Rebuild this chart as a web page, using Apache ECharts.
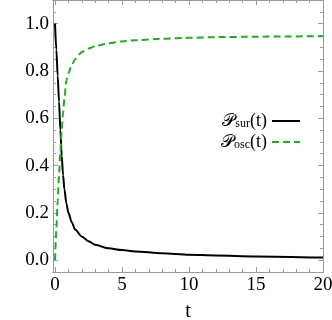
<!DOCTYPE html>
<html>
<head>
<meta charset="utf-8">
<script src="https://cdn.jsdelivr.net/npm/echarts@6/dist/echarts.min.js"></script>
<style>
    html, body { margin: 0; padding: 0; background: #fff; }
    #chart { width: 332px; height: 320px; }
</style>
</head>
<body>
<div id="chart"></div>
<script>
// data
var tValues = [0, 0.1, 0.2, 0.3, 0.4, 0.5, 0.6, 0.7, 0.85, 1.0, 1.25, 1.5, 2, 2.5, 3, 4, 5, 6, 8, 10, 12, 15, 20];
var survival = [1.0, 0.89, 0.78, 0.67, 0.55, 0.44, 0.36, 0.3, 0.24, 0.2, 0.16, 0.13, 0.1, 0.08, 0.065, 0.05, 0.043, 0.037, 0.029, 0.023, 0.02, 0.016, 0.011];
var oscillation = [0, 0.13, 0.25, 0.36, 0.46, 0.55, 0.62, 0.68, 0.76, 0.79, 0.825, 0.85, 0.88, 0.895, 0.905, 0.917, 0.925, 0.93, 0.936, 0.94, 0.943, 0.945, 0.947];

var xMajor = [0, 5, 10, 15, 20];
var xMinor = [1, 2, 3, 4, 6, 7, 8, 9, 11, 12, 13, 14, 16, 17, 18, 19];
var yMajor = [0, 0.2, 0.4, 0.6, 0.8, 1.0];
var yMinor = [-0.05, 0.05, 0.1, 0.15, 0.25, 0.3, 0.35, 0.45, 0.5, 0.55, 0.65, 0.7, 0.75, 0.85, 0.9, 0.95, 1.05];

var frameColor = '#9a9a9a';
var serif = '"Liberation Serif", "DejaVu Serif", serif';

function pairs(xs, ys) {
    var out = [];
    for (var i = 0; i < xs.length; i++) {
        out.push([xs[i], ys[i]]);
    }
    return out;
}

function xAxisOf(pos, ticks, len, labels) {
    return {
        type: 'value',
        position: pos,
        min: -0.15,
        max: 20,
        axisLine: { show: true, onZero: false, lineStyle: { color: frameColor, width: 1 } },
        axisTick: { show: true, inside: true, length: len, customValues: ticks, lineStyle: { color: frameColor } },
        axisLabel: labels ? {
            show: true, customValues: ticks, margin: 4,
            color: '#000', fontFamily: serif, fontSize: 19,
            formatter: function (v) { return String(v); }
        } : { show: false },
        splitLine: { show: false }
    };
}

function yAxisOf(pos, ticks, len, labels) {
    return {
        type: 'value',
        position: pos,
        min: -0.05,
        max: 1.1,
        axisLine: { show: true, onZero: false, lineStyle: { color: frameColor, width: 1 } },
        axisTick: { show: true, inside: true, length: len, customValues: ticks, lineStyle: { color: frameColor } },
        axisLabel: labels ? {
            show: true, customValues: ticks, margin: 4,
            color: '#000', fontFamily: serif, fontSize: 19,
            formatter: function (v) { return v.toFixed(1); }
        } : { show: false },
        splitLine: { show: false }
    };
}

var chart;
function initChart() {
    chart = echarts.init(document.getElementById('chart'), null, { renderer: 'canvas' });

    var bottomAxis = xAxisOf('bottom', xMajor, 5, true);
    bottomAxis.name = 't';
    bottomAxis.nameLocation = 'middle';
    bottomAxis.nameGap = 30;
    bottomAxis.nameTextStyle = { color: '#000', fontFamily: serif, fontSize: 20 };

    var option = {
        animation: false,
        backgroundColor: '#fff',
        grid: { left: 53, right: 9, top: 0, bottom: 48, containLabel: false, outerBoundsMode: 'none' },
        legend: {
            orient: 'vertical',
            right: 26,
            top: 107,
            align: 'right',
            itemWidth: 28,
            itemHeight: 14,
            itemGap: 3,
            itemStyle: { opacity: 0 },
            data: ['sur', 'osc'],
            formatter: function (name) {
                return '{p|\uD835\uDCAB}{s|' + name + '}{p|(t)}';
            },
            textStyle: {
                color: '#000',
                fontFamily: serif,
                rich: {
                    p: { fontSize: 18, fontFamily: serif, color: '#000', lineHeight: 18 },
                    s: { fontSize: 12, fontFamily: serif, color: '#000', lineHeight: 18, verticalAlign: 'bottom', padding: [6, 0, 0, 0] }
                }
            }
        },
        xAxis: [
            bottomAxis,
            xAxisOf('bottom', xMinor, 3, false),
            xAxisOf('top', xMajor, 5, false),
            xAxisOf('top', xMinor, 3, false)
        ],
        yAxis: [
            yAxisOf('left', yMajor, 5, true),
            yAxisOf('left', yMinor, 3, false),
            yAxisOf('right', yMajor, 5, false),
            yAxisOf('right', yMinor, 3, false)
        ],
        series: [
            {
                name: 'sur',
                type: 'line',
                data: pairs(tValues, survival),
                symbol: 'none',
                smooth: 0.3,
                smoothMonotone: 'x',
                color: '#000',
                lineStyle: { color: '#000', width: 2 }
            },
            {
                name: 'osc',
                type: 'line',
                data: pairs(tValues, oscillation),
                symbol: 'none',
                smooth: 0.2,
                smoothMonotone: 'x',
                color: '#1fae1f',
                lineStyle: { color: '#1fae1f', width: 2, type: [7, 4] }
            }
        ]
    };

    chart.setOption(option);
}

window.onload = function () {
    initChart();
};
</script>
</body>
</html>
